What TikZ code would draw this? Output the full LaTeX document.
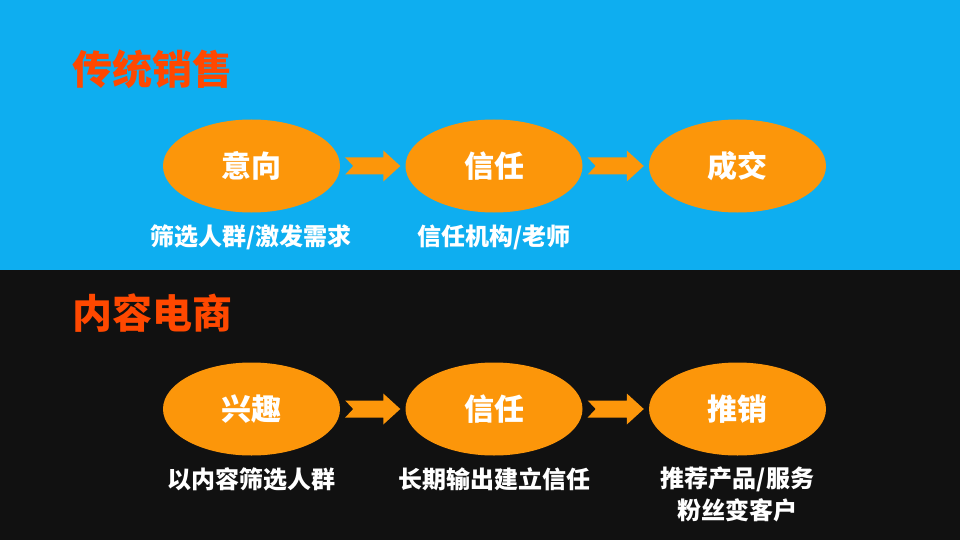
\documentclass[tikz,border=0pt]{standalone}
\usepackage{fontspec}
\newfontfamily\cjk{Noto Sans CJK SC}
\usetikzlibrary{shapes.geometric,calc}
\definecolor{bgblue}{RGB}{14,174,240}
\definecolor{bgblack}{RGB}{17,17,17}
\definecolor{ovalorange}{RGB}{252,150,10}
\definecolor{titlered}{RGB}{255,72,0}
\tikzset{
  oval/.style={ellipse, fill=ovalorange, minimum width=177pt, minimum height=93pt, inner sep=0pt,
    text=white, font=\cjk\bfseries\fontsize{30pt}{34pt}\selectfont},
  titletext/.style={anchor=west, inner sep=0pt, text=titlered, font=\cjk\bfseries\fontsize{40pt}{44pt}\selectfont},
  labeltext/.style={inner sep=0pt, text=white, font=\cjk\bfseries\fontsize{24pt}{31pt}\selectfont, align=center},
  blockarrow/.style={fill=ovalorange}
}
\newcommand{\blockarr}[2]{%
  \coordinate (A) at ($(#1.east)+(5,0)$);
  \coordinate (B) at ($(#2.west)+(-5,0)$);
  \fill[blockarrow] ($(A)+(0,-8.5)$) -- ($(B)+(-17,-8.5)$) -- ($(B)+(-17,-15.5)$) -- (B)
    -- ($(B)+(-17,15.5)$) -- ($(B)+(-17,8.5)$) -- ($(A)+(0,8.5)$) -- ($(A)+(8,0)$) -- cycle;
}
\begin{document}
\begin{tikzpicture}[x=1pt,y=-1pt]
\useasboundingbox (0,0) rectangle (960,540);
\fill[bgblue] (0,0) rectangle (960,270);
\fill[bgblack] (0,270) rectangle (960,540);

\node[titletext] (t1) at (72,69) {传统销售};
\node[titletext] (t2) at (72,313) {内容电商};

\node[oval] (a1) at (251.5,166) {意向};
\node[oval] (a2) at (494,166) {信任};
\node[oval] (a3) at (737.5,166) {成交};

\node[oval] (b1) at (251.5,409) {兴趣};
\node[oval] (b2) at (494,409) {信任};
\node[oval] (b3) at (737.5,409) {推销};

\blockarr{a1}{a2}
\blockarr{a2}{a3}
\blockarr{b1}{b2}
\blockarr{b2}{b3}

\node[labeltext] (la1) at (251,237) {筛选人群/激发需求};
\node[labeltext] (la2) at (494,237) {信任机构/老师};

\node[labeltext] (lb1) at (251,479) {以内容筛选人群};
\node[labeltext] (lb2) at (494,479) {长期输出建立信任};
\node[labeltext] (lb3) at (737.5,479) {推荐产品/服务};
\node[labeltext] (lb4) at (737.5,510) {粉丝变客户};
\end{tikzpicture}
\end{document}
